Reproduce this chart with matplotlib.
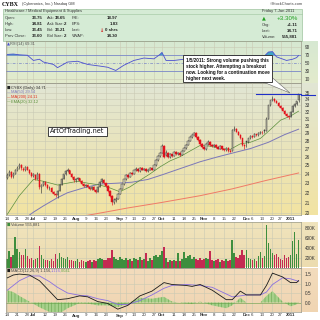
import numpy as np
import matplotlib
matplotlib.use("Agg")
import matplotlib.pyplot as plt
from matplotlib.colors import to_rgb
from matplotlib.patches import Rectangle, Polygon
from matplotlib.ticker import NullLocator

plt.rcParams['font.family'] = ['Liberation Sans', 'DejaVu Sans']

# ---------------- data ----------------
tick_idx = [0, 5, 10, 13, 19, 24, 29, 34, 39, 44, 49, 56, 59, 63, 68, 73, 77, 83, 88, 93,
            98, 103, 108, 113, 119, 122, 127, 132, 136, 141]
tick_lbl = ['14', '21', '28', 'Jul', '12', '19', '26', 'Aug', '9', '16', '23', 'Sep', '7', '13',
            '20', '27', 'Oct', '11', '18', '25', 'Nov', '8', '15', '22', 'Dec', '6', '13', '20',
            '27', '2011']
month_lbl = {'Jul', 'Aug', 'Sep', 'Oct', 'Nov', 'Dec', '2011'}

opens = [23.60, 23.85, 24.20, 23.75, 24.00, 24.40, 24.75, 25.00, 24.60, 24.45,
         24.75, 24.45, 24.10, 23.80, 23.90, 23.50, 24.00, 22.60, 22.85, 23.10,
         22.80, 22.45, 22.50, 22.10, 21.85, 21.75, 22.20, 22.85, 23.45, 23.95,
         24.30, 24.40, 24.00, 23.70, 23.30, 23.40, 23.55, 23.20, 22.90, 22.70,
         22.85, 22.55, 22.35, 22.60, 22.30, 22.10, 22.60, 23.10, 23.35, 23.00,
         22.70, 22.20, 21.70, 21.05, 21.30, 21.40, 21.90, 22.40, 22.90, 23.40,
         23.90, 23.70, 24.10, 24.00, 24.40, 24.60, 24.30, 24.70, 24.50, 24.60,
         24.30, 24.45, 24.65, 24.50, 25.00, 25.60, 26.10, 26.50, 27.35, 26.20,
         26.50, 25.95, 26.30, 26.10, 26.60, 26.30, 26.50, 26.20, 26.70, 27.10,
         27.50, 28.00, 28.55, 28.80, 29.00, 28.50, 28.10, 27.60, 27.20, 26.90,
         27.60, 27.90, 27.40, 27.30, 27.50, 27.20, 27.00, 27.30, 26.90, 26.80,
         27.10, 26.75, 26.70, 29.40, 29.60, 29.20, 28.80, 28.30, 27.40, 27.95,
         27.80, 28.30, 28.60, 28.50, 28.90, 28.70, 29.00, 29.20, 29.45, 29.30,
         31.00, 33.00, 33.90, 34.00, 33.60, 33.40, 32.90, 32.60, 32.20, 31.70,
         31.40, 31.30, 32.00, 32.90, 33.20, 33.75]
highs = [24.10, 24.40, 24.30, 24.20, 24.60, 24.85, 25.28, 25.10, 24.80, 24.90,
         24.85, 24.55, 24.20, 24.10, 24.00, 24.25, 24.10, 22.90, 23.20, 23.20,
         22.90, 22.70, 22.60, 22.20, 22.00, 22.30, 22.95, 23.55, 24.05, 24.40,
         24.64, 24.50, 24.10, 23.80, 23.55, 23.70, 23.60, 23.30, 23.00, 22.95,
         22.90, 22.60, 22.70, 22.65, 22.40, 22.70, 23.20, 23.60, 23.45, 23.05,
         22.75, 22.25, 21.80, 21.45, 21.60, 22.00, 22.50, 22.95, 23.45, 23.95,
         24.00, 24.20, 24.20, 24.50, 24.80, 24.65, 24.80, 24.80, 24.70, 24.65,
         24.55, 24.75, 24.70, 25.10, 25.70, 26.20, 26.60, 27.60, 27.45, 26.80,
         26.55, 26.40, 26.35, 26.70, 26.65, 26.60, 26.55, 26.80, 27.20, 27.60,
         28.10, 28.65, 28.90, 29.15, 29.10, 28.60, 28.20, 27.70, 27.30, 27.70,
         28.05, 27.95, 27.60, 27.60, 27.55, 27.30, 27.40, 27.35, 27.00, 27.20,
         27.15, 26.90, 29.60, 30.00, 29.70, 29.30, 28.90, 28.35, 27.60, 28.00,
         28.40, 28.70, 28.70, 29.00, 28.95, 29.10, 29.30, 29.25, 29.50, 31.20,
         33.10, 33.90, 34.40, 34.10, 33.80, 33.50, 33.00, 32.70, 32.30, 31.90,
         31.60, 32.10, 33.00, 33.40, 33.70, 34.81]
lows = [23.50, 23.80, 23.55, 23.60, 23.95, 24.30, 24.60, 24.50, 24.30, 24.35,
        24.40, 23.95, 23.70, 23.65, 23.30, 23.40, 22.40, 22.00, 22.70, 22.70,
        22.35, 22.30, 22.00, 21.75, 21.55, 21.50, 22.15, 22.80, 23.40, 23.85,
        24.20, 23.95, 23.60, 23.10, 23.15, 23.30, 23.10, 22.80, 22.60, 22.60,
        22.45, 22.25, 22.30, 22.20, 22.00, 22.05, 22.55, 23.00, 22.90, 22.60,
        22.10, 21.60, 20.81, 20.90, 21.10, 21.35, 21.85, 22.35, 22.85, 23.35,
        23.60, 23.65, 23.90, 23.95, 24.35, 24.20, 24.25, 24.40, 24.40, 24.20,
        24.20, 24.40, 24.40, 24.45, 24.95, 25.50, 26.00, 26.45, 25.80, 26.10,
        25.90, 25.90, 26.00, 26.05, 26.20, 26.25, 26.10, 26.15, 26.65, 27.00,
        27.45, 27.95, 28.40, 28.70, 28.40, 28.00, 27.50, 27.10, 26.80, 26.85,
        27.50, 27.30, 27.20, 27.20, 27.10, 26.90, 26.95, 26.80, 26.70, 26.75,
        26.61, 26.55, 26.65, 29.30, 29.10, 28.70, 28.20, 27.30, 26.91, 27.25,
        27.75, 28.20, 28.30, 28.45, 28.60, 28.65, 28.90, 28.90, 29.00, 29.25,
        30.90, 32.90, 33.70, 33.50, 33.30, 32.80, 32.50, 32.10, 31.60, 31.30,
        30.92, 31.25, 31.95, 32.80, 33.00, 33.45]
closes = [23.90, 24.25, 23.70, 24.05, 24.45, 24.70, 25.05, 24.65, 24.40, 24.80,
          24.50, 24.10, 23.80, 23.95, 23.45, 24.05, 22.55, 22.80, 23.10, 22.80,
          22.45, 22.50, 22.10, 21.85, 21.75, 22.20, 22.85, 23.45, 23.95, 24.30,
          24.45, 24.05, 23.70, 23.30, 23.40, 23.55, 23.20, 22.90, 22.70, 22.85,
          22.55, 22.35, 22.60, 22.30, 22.10, 22.60, 23.10, 23.40, 23.00, 22.70,
          22.20, 21.70, 21.05, 21.30, 21.40, 21.90, 22.40, 22.90, 23.40, 23.90,
          23.70, 24.10, 24.00, 24.40, 24.60, 24.30, 24.70, 24.50, 24.60, 24.30,
          24.45, 24.65, 24.50, 25.00, 25.60, 26.10, 26.50, 27.35, 26.00, 26.50,
          25.95, 26.30, 26.10, 26.60, 26.30, 26.50, 26.20, 26.70, 27.10, 27.50,
          28.00, 28.55, 28.80, 29.00, 28.50, 28.10, 27.60, 27.20, 26.90, 27.60,
          27.90, 27.40, 27.30, 27.50, 27.20, 27.00, 27.30, 26.90, 26.80, 27.10,
          26.75, 26.60, 29.40, 29.60, 29.20, 28.80, 28.30, 27.40, 27.30, 27.80,
          28.30, 28.60, 28.50, 28.90, 28.70, 29.00, 29.20, 29.10, 29.30, 31.00,
          33.00, 33.80, 34.00, 33.60, 33.40, 32.90, 32.60, 32.20, 31.70, 31.40,
          31.20, 32.00, 32.90, 33.20, 33.60, 34.71]
volume_k = [180, 330, 220, 260, 610, 380, 310, 250, 260, 380,
            240, 180, 200, 150, 170, 200, 425, 260, 180, 150,
            160, 130, 170, 140, 280, 180, 300, 220, 200, 170,
            210, 150, 160, 130, 140, 170, 120, 150, 130, 110,
            140, 160, 120, 150, 130, 180, 200, 170, 150, 160,
            190, 200, 360, 210, 170, 150, 210, 180, 160, 190,
            150, 170, 140, 200, 180, 150, 220, 160, 170, 300,
            140, 200, 150, 230, 260, 210, 250, 330, 410, 200,
            120, 160, 130, 150, 140, 290, 130, 170, 310, 200,
            230, 260, 180, 210, 180, 160, 190, 150, 170, 200,
            180, 340, 160, 130, 150, 170, 120, 160, 140, 180,
            130, 150, 560, 300, 220, 200, 260, 360, 250, 360,
            200, 180, 150, 170, 140, 230, 310, 190, 240, 850,
            490, 380, 300, 250, 270, 220, 180, 160, 250, 200,
            220, 260, 545, 710, 280, 556]

ema20_idx = [0, 6, 13, 18, 25, 30, 35, 40, 46, 51, 56, 61, 66, 71, 76, 81, 86, 91, 96,
             101, 106, 111, 116, 121, 126, 131, 136, 141, 145]
ema20_val = [19.9, 21.7, 23.4, 23.2, 22.8, 23.0, 23.2, 23.0, 22.8, 22.5, 22.1, 22.6, 23.3,
             24.0, 24.8, 25.5, 26.0, 26.7, 27.4, 27.3, 27.0, 26.9, 27.6, 27.8, 28.3, 29.5,
             30.8, 31.4, 32.12]
ma50_idx = [10, 13, 18, 25, 30, 38, 46, 55, 62, 70, 77, 86, 96, 105, 113, 121, 130, 138, 145]
ma50_val = [19.7, 20.1, 20.7, 21.5, 22.0, 22.5, 22.9, 23.0, 23.1, 23.4, 23.9, 24.6, 25.4,
            26.0, 26.5, 27.0, 27.8, 28.8, 29.54]
ma200_idx = [38, 50, 60, 76, 96, 112, 129, 145]
ma200_val = [19.75, 20.15, 20.5, 21.0, 21.7, 22.4, 23.3, 24.11]

rsi_idx = [0, 3, 6, 10, 13, 16, 18, 23, 25, 30, 35, 40, 46, 50, 54, 58, 63, 68, 73, 76, 77,
           79, 83, 88, 92, 96, 102, 109, 112, 119, 126, 130, 132, 134, 139, 142, 144, 145]
rsi_val = [72, 73, 71, 70, 57, 60, 53, 47, 39, 53, 55, 47, 43, 40, 32, 45, 57, 63, 61, 72, 77,
           57, 57, 60, 65, 58, 52, 48, 68, 53, 58, 78, 79, 66, 57, 60, 64, 69.31]

macd_idx = [0, 3, 6, 11, 16, 21, 25, 30, 36, 40, 45, 50, 55, 60, 66, 72, 78, 82, 89, 92, 96,
            102, 109, 112, 116, 119, 126, 129, 132, 137, 141, 144, 145]
macd_val = [1.30, 1.45, 1.50, 1.45, 1.15, 0.60, 0.15, 0.20, 0.35, 0.30, 0.05, -0.05, -0.35,
            -0.15, 0.35, 0.60, 1.05, 0.95, 0.90, 0.85, 0.95, 0.65, 0.15, 0.15, 0.60, 0.40,
            0.40, 0.90, 1.55, 1.35, 1.05, 1.05, 1.156]
signal_val = [0.65, 0.90, 1.15, 1.40, 1.40, 1.10, 0.80, 0.50, 0.38, 0.35, 0.20, 0.10, -0.10,
              -0.10, 0.10, 0.40, 0.75, 0.90, 0.95, 0.93, 0.90, 0.80, 0.45, 0.30, 0.35, 0.40,
              0.40, 0.55, 0.95, 1.30, 1.25, 1.15, 1.116]

resistance = 34.75

# ---------------- layout helpers (pixel coordinates) ----------------
W = H = 320
fig = plt.figure(figsize=(3.2, 3.2), dpi=100)
fig.patch.set_facecolor('white')


def rect(x0, y0, x1, y1):
    return [x0 / W, 1 - y1 / H, (x1 - x0) / W, (y1 - y0) / H]


def put(x, y, s, size=3.0, color='#222222', weight='normal', ha='left', **kw):
    fig.text(x / W, 1 - y / H, s, fontsize=size, color=color, fontweight=weight,
             ha=ha, va='center', **kw)


def shade(x0, y0, x1, y1, top, bottom):
    bg = fig.add_axes(rect(x0, y0, x1, y1), zorder=0)
    c0, c1 = np.array(to_rgb(top)), np.array(to_rgb(bottom))
    t = np.linspace(0, 1, 64)[:, None]
    img = (c0 * (1 - t) + c1 * t)[:, None, :]
    bg.imshow(img, aspect='auto', extent=(0, 1, 0, 1), interpolation='bilinear')
    bg.axis('off')


XL, XR = 6, 301
xlim = (-0.65, 146.2)
grid_c = '#c9c9b4'

# panel backgrounds (plot area plus right label column)
shade(XL, 41, 318, 83.3, '#d6e8d2', '#e3ebcc')
shade(XL, 83.3, 318, 215, '#e1e6d4', '#f2e3a2')
shade(XL, 222, 318, 267.5, '#f0e4bd', '#ecdcaf')
shade(XL, 268, 318, 312, '#f3dcbd', '#f0d5b2')


def panel(y0, y1):
    ax = fig.add_axes(rect(XL, y0, XR, y1), zorder=2)
    ax.set_facecolor('none')
    ax.set_xlim(*xlim)
    ax.set_xticks([])
    ax.yaxis.tick_right()
    ax.tick_params(axis='y', length=0, pad=2.5, labelsize=3.4, labelcolor='#333333')
    for s in ax.spines.values():
        s.set_color('#9a9a8a')
        s.set_linewidth(0.5)
    for i in tick_idx:
        ax.axvline(i, color=grid_c, lw=0.4, zorder=0)
    return ax


# ---------------- header ----------------
put(2, 4, 'CYBX', size=4.3, weight='bold', color='#111111', family='Liberation Serif')
put(21.5, 4.3, '(Cyberonics, Inc.) Nasdaq GM', size=2.8, color='#333333')
put(303, 4, '\u00a9StockCharts.com', size=2.9, color='#444444', ha='right')
fig.add_artist(Rectangle((3 / W, 1 - 40.5 / H), 299 / W, 32 / H, transform=fig.transFigure,
                         facecolor='#d5ebd5', edgecolor='#9fc49f', lw=0.5, zorder=1))
fig.add_artist(plt.Line2D([3 / W, 302 / W], [1 - 14 / H] * 2, transform=fig.transFigure,
                          color='#9fc49f', lw=0.4, zorder=1))
put(5, 11, 'Healthcare / Medical Equipment & Supplies', size=2.9, color='#333333')
put(262, 11, 'Friday 7-Jan-2011', size=2.9, color='#333333')

rows_y = [18.3, 24.3, 30.0, 36.0]
col1 = ['Open:', 'High:', 'Low:', 'Prev Close:']
val1 = ['33.75', '34.81', '33.45', '33.60']
col2 = ['Ask:', 'Ask Size:', 'Bid:', 'Bid Size:']
val2 = ['38.65', '2', '33.21', '2']
col3 = ['P/E:', 'EPS:', 'Last:', 'VWAP:']
val3 = ['18.97', '1.83', '0 shrs', '34.30']
for y, a, b, c, d, e, f in zip(rows_y, col1, val1, col2, val2, col3, val3):
    put(5, y, a, size=2.9, color='#333333')
    put(43, y, b, size=3.2, weight='bold', ha='right', color='#222222')
    put(47, y, c, size=2.9, color='#333333')
    put(66, y, d, size=3.2, weight='bold', ha='right', color='#222222')
    put(72, y, e, size=2.9, color='#333333')
    put(118, y, f, size=3.2, weight='bold', ha='right', color='#222222')
put(99.5, 30.0, '\u2193', size=3.6, weight='bold', color='#d01010', family='DejaVu Sans')

put(262, 18.3, '\u25b2', size=3.6, color='#20a020', family='DejaVu Sans')
put(298, 18.3, '+3.30%', size=4.4, color='#20a020', ha='right')
for y, a, b in zip([25.0, 30.7, 36.5], ['Chg:', 'Last:', 'Volume:'],
                   ['+1.11', '34.71', '555,881']):
    put(262, y, a, size=2.9, color='#333333')
    put(298, y, b, size=3.2, weight='bold', ha='right', color='#222222')

# ---------------- RSI ----------------
ax_r = panel(41, 83.3)
ax_r.set_ylim(0, 105.5)
ax_r.set_yticks([10, 30, 50, 70, 90])
for lv in [10, 90]:
    ax_r.axhline(lv, color=grid_c, lw=0.4, zorder=0)
ax_r.axhline(70, color='#7a86c8', lw=0.6, zorder=1)
ax_r.axhline(30, color='#7a86c8', lw=0.6, zorder=1)
ax_r.axhline(50, color='#7a86c8', lw=0.5, ls=(0, (4, 2, 1, 2)), zorder=1)
rx, rv = np.array(rsi_idx, float), np.array(rsi_val, float)
ax_r.fill_between(rx, 70, rv, where=rv > 70, interpolate=True, color='#3fa6c6', lw=0, zorder=2)
ax_r.plot(rx, rv, color='#4b4fd0', lw=0.6, zorder=3)
put(7, 44.3, '\u25b2', size=2.8, color='#4b4fd0', family='DejaVu Sans')
put(10.5, 44.3, 'RSI(14) 69.31', size=2.8, color='#555555')

# ---------------- price ----------------
ax_p = panel(83.3, 215)
ax_p.set_yscale('log')
ax_p.set_ylim(19.84, 36.55)
ax_p.yaxis.set_minor_locator(NullLocator())
pt = list(range(20, 36))
ax_p.set_yticks(pt)
ax_p.set_yticklabels([str(v) for v in pt])
for v in range(20, 37):
    ax_p.axhline(v, color=grid_c, lw=0.4, zorder=0)

ax_p.plot(ma200_idx, ma200_val, color='#f07a66', lw=0.7, zorder=2)
ax_p.plot(ma50_idx, ma50_val, color='#7c78b8', lw=0.7, zorder=2)
ax_p.plot(ema20_idx, ema20_val, color='#5b8f3c', lw=0.5, zorder=2)

for i, (o, h, l, c) in enumerate(zip(opens, highs, lows, closes)):
    prev = closes[i - 1] if i else o
    col = '#e3121c' if c < prev else '#3a3a3a'
    ax_p.vlines(i, l, h, color=col, lw=0.45, zorder=3)
    lo, hi = min(o, c), max(o, c)
    if hi - lo < 0.03:
        hi = lo + 0.03
    face = col if c < o else '#d9d6c2'
    ax_p.add_patch(Rectangle((i - 0.38, lo), 0.76, hi - lo, facecolor=face,
                             edgecolor=col, lw=0.35, zorder=4))

ax_p.plot([124, 146.2], [resistance] * 2, color='#1f2fc8', lw=0.8, zorder=5, clip_on=False)
fig.add_artist(plt.Line2D([XR / W, 315 / W], [1 - 95.2 / H] * 2, transform=fig.transFigure,
                          color='#1f2fc8', lw=0.8, zorder=5))

legend_rows = [('\u25a0', 'CYBX (Daily) 34.71', '#222222', '#333333'),
               ('\u2014', 'MA(50) 29.54', '#7c78b8', '#7c78b8'),
               ('\u2014', 'MA(200) 24.11', '#e03020', '#e03020'),
               ('\u2014', 'EMA(20) 32.12', '#5b8f3c', '#5b8f3c')]
for k, (mk, txt, mc, tc) in enumerate(legend_rows):
    y = 88 + 4.5 * k
    put(7, y, mk, size=2.6, color=mc, family='DejaVu Sans')
    put(10.8, y, txt, size=2.9, color=tc)

put(77.5, 131.5, 'ArtOfTrading.net', size=4.7, color='#111111', ha='center',
    family='DejaVu Sans',
    bbox=dict(boxstyle='square,pad=0.3', facecolor='white', edgecolor='#222222', lw=0.6),
    zorder=6)

# ---------------- date strips ----------------
for ylab in (218.8, 315.5):
    for i, s in zip(tick_idx, tick_lbl):
        x = XL + (i - xlim[0]) / (xlim[1] - xlim[0]) * (XR - XL)
        put(x, ylab, s, size=3.2, color='#333333', ha='center',
            weight='bold' if s in month_lbl else 'normal')

# ---------------- volume ----------------
ax_v = panel(222, 267.5)
ax_v.set_ylim(0, 920)
ax_v.set_yticks([200, 400, 600, 800])
ax_v.set_yticklabels(['200K', '400K', '600K', '800K'])
for v in [200, 400, 600, 800]:
    ax_v.axhline(v, color=grid_c, lw=0.4, zorder=0)
vcol = ['#3e8e3e' if (i == 0 or closes[i] >= closes[i - 1]) else '#c42a52'
        for i in range(len(closes))]
ax_v.bar(range(len(volume_k)), volume_k, width=0.85, color=vcol, lw=0, zorder=2)
put(7, 224.8, '\u25a0', size=2.6, color='#3e8e3e', family='DejaVu Sans')
put(10.8, 224.8, 'Volume 555,881', size=2.9, color='#444444')

# ---------------- MACD ----------------
ax_m = panel(268, 312)
ax_m.set_ylim(-0.5, 1.82)
ax_m.set_yticks([0.0, 0.5, 1.0, 1.5])
ax_m.set_yticklabels(['0.0', '0.5', '1.0', '1.5'])
for v in [0.5, 1.0, 1.5]:
    ax_m.axhline(v, color=grid_c, lw=0.4, zorder=0)
mx = np.array(macd_idx, float)
mv, sv = np.array(macd_val), np.array(signal_val)
hist = mv - sv
plt.rcParams['hatch.linewidth'] = 0.35
ax_m.fill_between(mx, 0, hist, facecolor='#a6d08a', edgecolor='#5f9e45', hatch='|||||',
                  lw=0, zorder=2)
ax_m.axhline(0, color='#5f9e45', lw=0.4, zorder=2)
ax_m.plot(mx, sv, color='#8a6fe0', lw=0.6, zorder=3)
ax_m.plot(mx, mv, color='#1a1a1a', lw=0.6, zorder=4)
put(7, 270.8, '\u25a0', size=2.6, color='#1a1a1a', family='DejaVu Sans')
put(10.8, 270.8, 'MACD(12,26,9) 1.156,', size=2.9, color='#444444')
put(50.5, 270.8, '1.116,', size=2.9, color='#8a6fe0')
put(60.5, 270.8, '0.041', size=2.9, color='#6aa84f')

# ---------------- note box ----------------
fig.add_artist(Polygon([(262 / W, 1 - 81.5 / H), (271.5 / W, 1 - 77 / H), (290 / W, 1 - 93 / H)],
                       closed=True, transform=fig.transFigure, facecolor='white',
                       edgecolor='#666666', lw=0.4, zorder=7))
fig.add_artist(Rectangle((183 / W, 1 - 82.3 / H), 89 / W, 27 / H, transform=fig.transFigure,
                         facecolor='white', edgecolor='#222222', lw=0.6, zorder=8))
note = ['1/5/2011: Strong volume pushing this',
        'stock higher. Attempting a breakout',
        'now. Looking for a continuation move',
        'higher next week.']
for k, line in enumerate(note):
    fig.text(185.5 / W, 1 - (60.3 + 6.0 * k) / H, line, fontsize=3.35, fontweight='bold',
             color='#111111', ha='left', va='center', zorder=9)

fig.savefig('out.png', dpi=100, facecolor='white')
